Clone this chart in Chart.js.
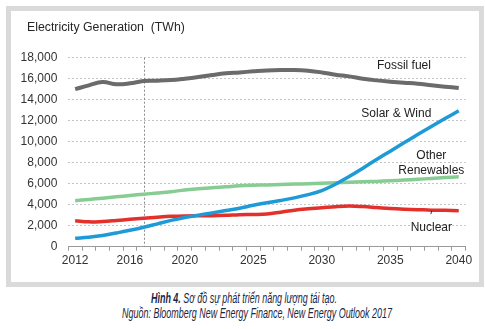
<!DOCTYPE html>
<html>
<head>
<meta charset="utf-8">
<script src="https://cdn.jsdelivr.net/npm/chart.js@4.4.1/dist/chart.umd.min.js"></script>
<style>
  html, body { margin: 0; padding: 0; background: #fff; }
  body { width: 485px; height: 329px; position: relative; overflow: hidden; }
  .frame {
    position: absolute; left: 6px; top: 6px; width: 478px; height: 281px;
    box-sizing: border-box; border: 5px solid #dadada; background: #fff;
  }
  #chart { position: absolute; left: 0; top: 0; }
  .title {
    position: absolute; left: 27px; top: 20px; white-space: pre;
    font: 12.3px "Liberation Sans", Arial, sans-serif; color: #262626; line-height: 15px;
  }
  .caption {
    position: absolute; left: 0; width: 500px; text-align: center; white-space: nowrap;
    font-family: "Liberation Sans", sans-serif;
    font-style: italic; font-size: 14px; color: #1a2744; line-height: 15px;
    transform: scaleX(0.64);
  }
</style>
</head>
<body>
<div class="frame"></div>
<canvas id="chart" width="485" height="290"></canvas>
<div class="title">Electricity Generation  (TWh)</div>
<div class="caption" style="top:291px; left:-6px; transform-origin:250px 0"><b>Hình 4.</b> Sơ đồ sự phát triển năng lượng tái tạo.</div>
<div class="caption" style="top:306px; left:7px; transform-origin:250px 0">Nguồn: Bloomberg New Energy Finance, New Energy Outlook 2017</div>
<script>
/* Năm dự báo 2012–2040 */
var years = [];
for (var y = 2012; y <= 2040; y++) years.push(String(y));

/* Các năm có nhãn trên trục hoành */
var shownYears = ['2012', '2016', '2020', '2025', '2030', '2035', '2040'];

/* Nhãn trục tung */
var yTicks = [0, 2000, 4000, 6000, 8000, 10000, 12000, 14000, 16000, 18000];

/* Sản lượng điện (TWh) theo nguồn */
var fossilFuel = [
  15000, 15370, 15690, 15470, 15560, 15780, 15810, 15870, 16000, 16160,
  16350, 16510, 16600, 16700, 16790, 16830, 16830, 16760, 16600, 16380,
  16220, 16000, 15840, 15720, 15620, 15520, 15370, 15240, 15110
];
var solarWind = [
  800, 905, 1065, 1305, 1560, 1845, 2175, 2510, 2785, 3005,
  3220, 3445, 3670, 3940, 4180, 4400, 4650, 4960, 5350, 5950,
  6680, 7480, 8300, 9100, 9900, 10680, 11450, 12200, 12950
];
var otherRenewables = [
  4380, 4495, 4620, 4750, 4875, 5000, 5110, 5235, 5400, 5515,
  5610, 5705, 5800, 5850, 5880, 5920, 5960, 6000, 6040, 6100,
  6140, 6180, 6220, 6280, 6350, 6420, 6500, 6580, 6670
];
var nuclear = [
  2480, 2365, 2400, 2495, 2605, 2715, 2810, 2890, 2935, 2950,
  2950, 2985, 3050, 3065, 3115, 3290, 3480, 3605, 3700, 3810,
  3870, 3825, 3735, 3640, 3575, 3530, 3480, 3460, 3430
];

/* Năm hiện tại — vạch đứt dọc */
var markerYear = '2017';

/* Chú thích đặt cạnh đường: [chữ, năm, giá trị, căn lề] */
var seriesNotes = [
  ['Fossil fuel', '2036', 17250, 'center'],
  ['Solar & Wind', '2038', 12700, 'right'],
  ['Other', '2038', 8640, 'center'],
  ['Renewables', '2038', 7240, 'center'],
  ['Nuclear', '2038', 1850, 'center']
];

var FONT = '"Liberation Sans", Arial, sans-serif';

var markerLine = {
  id: 'markerLine',
  beforeDatasetsDraw: function (chart) {
    var ctx = chart.ctx, area = chart.chartArea;
    var x = chart.scales.x.getPixelForValue(years.indexOf(markerYear));
    ctx.save();
    ctx.strokeStyle = '#8a8a8a';
    ctx.lineWidth = 1;
    ctx.setLineDash([2, 2]);
    ctx.beginPath();
    ctx.moveTo(Math.round(x) + 0.5, area.top);
    ctx.lineTo(Math.round(x) + 0.5, area.bottom);
    ctx.stroke();
    ctx.restore();
  }
};

var notes = {
  id: 'notes',
  afterDatasetsDraw: function (chart) {
    var ctx = chart.ctx, xs = chart.scales.x, ys = chart.scales.y;
    ctx.save();
    ctx.fillStyle = '#222';
    ctx.font = '12px ' + FONT;
    ctx.textBaseline = 'middle';
    seriesNotes.forEach(function (n) {
      ctx.textAlign = n[3];
      ctx.fillText(n[0], xs.getPixelForValue(years.indexOf(n[1])), ys.getPixelForValue(n[2]));
    });
    // vạch nối nhãn Nuclear với đường
    var lx = xs.getPixelForValue(years.indexOf('2038'));
    ctx.strokeStyle = '#333';
    ctx.lineWidth = 1;
    ctx.beginPath();
    ctx.moveTo(lx + 0.5, ys.getPixelForValue(3450));
    ctx.lineTo(lx - 0.5, ys.getPixelForValue(3100));
    ctx.stroke();
    ctx.restore();
  }
};

function line(data, color, width) {
  return {
    data: data, borderColor: color, borderWidth: width,
    pointRadius: 0, tension: 0.4, fill: false
  };
}

new Chart(document.getElementById('chart'), {
  type: 'line',
  data: {
    labels: years,
    datasets: [
      line(fossilFuel, '#6b6b6b', 4),
      line(solarWind, '#1e9ad6', 3.5),
      line(otherRenewables, '#86cc93', 3.5),
      line(nuclear, '#e3302b', 3.5)
    ]
  },
  options: {
    responsive: false,
    animation: false,
    layout: { padding: { left: 19.3, right: 19.4, top: 57.7, bottom: 21.3 } },
    plugins: { legend: { display: false }, tooltip: { enabled: false } },
    scales: {
      x: {
        offset: true,
        afterFit: function (s) { s.height = 22; },
        grid: { offset: true, drawOnChartArea: false, tickLength: 4, color: '#9a9a9a' },
        border: { color: '#9a9a9a', width: 1 },
        ticks: {
          autoSkip: false, maxRotation: 0, padding: 3,
          color: '#333', font: { family: FONT, size: 12 },
          callback: function (v) {
            var lbl = years[v];
            return shownYears.indexOf(lbl) >= 0 ? lbl : '';
          }
        }
      },
      y: {
        min: yTicks[0], max: yTicks[yTicks.length - 1],
        afterFit: function (s) { s.width = 49; },
        afterBuildTicks: function (s) { s.ticks = yTicks.map(function (v) { return { value: v }; }); },
        grid: { color: '#c4c4c4', drawTicks: false },
        border: { display: false, dash: [2, 2] },
        ticks: {
          padding: 11, color: '#333', font: { family: FONT, size: 12 },
          callback: function (v) { return v.toLocaleString('en-US'); }
        }
      }
    }
  },
  plugins: [markerLine, notes]
});
</script>
</body>
</html>
